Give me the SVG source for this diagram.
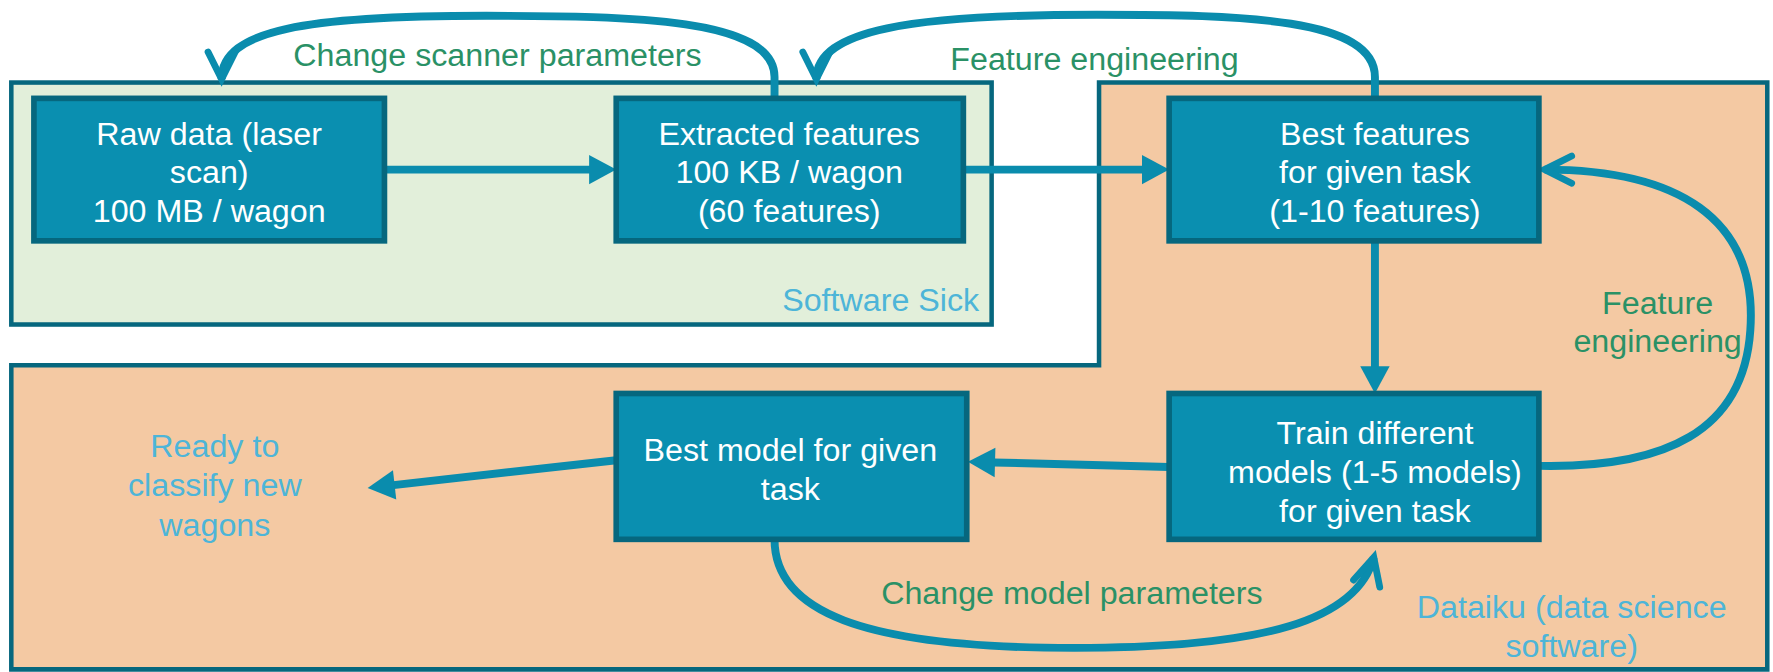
<svg xmlns="http://www.w3.org/2000/svg" width="1773" height="672" viewBox="0 0 1773 672">
<defs>
<style>
.region{stroke:#06677e;stroke-width:4}
.box{fill:#0a8fb0;stroke:#06677e;stroke-width:5}
.bt{font-family:"Liberation Sans",Arial,sans-serif;font-size:28.5px;fill:#ffffff;text-anchor:middle}
.lbl{font-family:"Liberation Sans",Arial,sans-serif;font-size:28.5px;fill:#2a9166;text-anchor:middle}
.note{font-family:"Liberation Sans",Arial,sans-serif;font-size:28.5px;fill:#4db5d8;text-anchor:middle}
.conn{fill:none;stroke:#0a8cad;stroke-width:7}
</style>
<marker id="tri" markerUnits="userSpaceOnUse" markerWidth="30" markerHeight="30" viewBox="0 -15 26 30" refX="1" refY="0" orient="auto">
<path d="M0,-13 L24,0 L0,13 Z" fill="#0a8cad"/>
</marker>
<marker id="vee" markerUnits="userSpaceOnUse" markerWidth="40" markerHeight="40" viewBox="-30 -20 36 40" refX="0" refY="0" orient="auto">
<path d="M-24,-12 L0,0 L-24,12" fill="none" stroke="#0a8cad" stroke-width="6" stroke-linecap="round" stroke-linejoin="miter"/>
</marker>
</defs>
<rect width="1773" height="672" fill="#ffffff"/>
<g transform="scale(1.1307)">
<g id="region-sick">
<rect class="region" x="10" y="73" width="867" height="214" fill="#e2efda"/>
<text class="note" x="866" y="275" style="text-anchor:end">Software Sick</text>
</g>
<g id="region-dataiku">
<path class="region" d="M972,73 H1563 V592 H10 V323 H972 Z" fill="#f4c9a3"/>
<text class="note" x="1390" y="547">Dataiku (data science</text>
<text class="note" x="1390" y="581">software)</text>
</g>
<g id="connectors">
<line class="conn" x1="340" y1="150" x2="522" y2="150" marker-end="url(#tri)"/>
<line class="conn" x1="852" y1="150" x2="1011" y2="150" marker-end="url(#tri)"/>
<line class="conn" x1="1216" y1="213" x2="1216" y2="325" marker-end="url(#tri)"/>
<line class="conn" x1="1034" y1="413" x2="879" y2="409" marker-end="url(#tri)"/>
<line class="conn" x1="545" y1="407" x2="348" y2="429" marker-end="url(#tri)"/>
<path class="conn" d="M685,87 L685,68 C685,16 560,14 430,14 C272,14 196,26 196,70" marker-end="url(#vee)"/>
<path class="conn" d="M1216,87 L1216,68 C1216,16 1100,13 970,13 C806,13 722,26 722,70" marker-end="url(#vee)"/>
<path class="conn" d="M1362,412 C1472,414 1542,382 1548,292 C1555,192 1482,150 1366,150" marker-end="url(#vee)"/>
<path class="conn" d="M685,477 C685,540 760,573 950,573 C1120,573 1200,548 1215,493" marker-end="url(#vee)"/>
<text class="lbl" x="440" y="58">Change scanner parameters</text>
<text class="lbl" x="968" y="62">Feature engineering</text>
<text class="lbl" x="1466" y="278">Feature</text>
<text class="lbl" x="1466" y="311">engineering</text>
<text class="lbl" x="948" y="534">Change model parameters</text>
</g>
<g id="node-raw">
<rect class="box" x="30" y="87" width="310" height="126"/>
<text class="bt" x="185" y="128">Raw data (laser</text>
<text class="bt" x="185" y="162">scan)</text>
<text class="bt" x="185" y="196">100 MB / wagon</text>
</g>
<g id="node-extracted">
<rect class="box" x="545" y="87" width="307" height="126"/>
<text class="bt" x="698" y="128">Extracted features</text>
<text class="bt" x="698" y="162">100 KB / wagon</text>
<text class="bt" x="698" y="196">(60 features)</text>
</g>
<g id="node-best-features">
<rect class="box" x="1034" y="87" width="327" height="126"/>
<text class="bt" x="1216" y="128">Best features</text>
<text class="bt" x="1216" y="162">for given task</text>
<text class="bt" x="1216" y="196">(1-10 features)</text>
</g>
<g id="node-train">
<rect class="box" x="1034" y="348" width="327" height="129"/>
<text class="bt" x="1216" y="393">Train different</text>
<text class="bt" x="1216" y="427">models (1-5 models)</text>
<text class="bt" x="1216" y="462">for given task</text>
</g>
<g id="node-best-model">
<rect class="box" x="545" y="348" width="310" height="129"/>
<text class="bt" x="699" y="408">Best model for given</text>
<text class="bt" x="699" y="442">task</text>
</g>
<g id="node-ready">
<text class="note" x="190" y="404">Ready to</text>
<text class="note" x="190" y="439">classify new</text>
<text class="note" x="190" y="474">wagons</text>
</g>
</g>
</svg>
